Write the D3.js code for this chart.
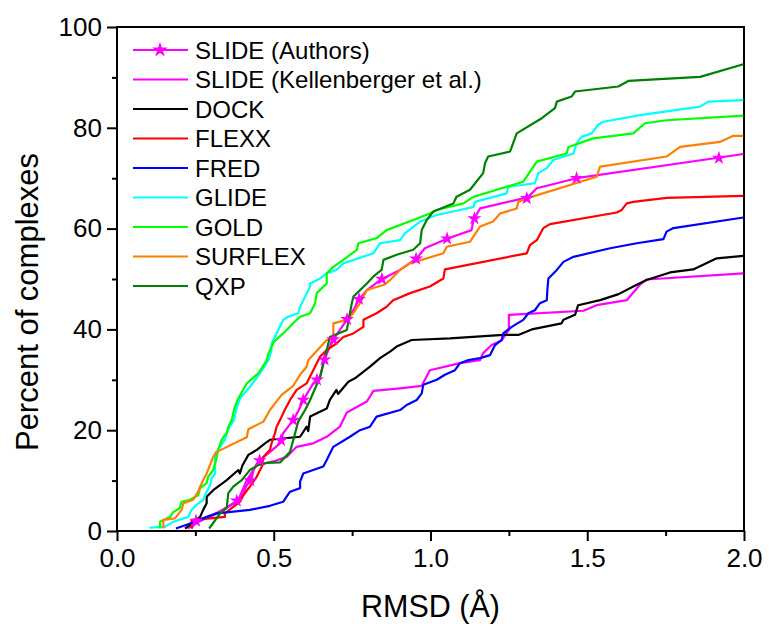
<!DOCTYPE html>
<html>
<head>
<meta charset="utf-8">
<script src="https://cdn.jsdelivr.net/npm/d3@7"></script>
<style>
  body { margin: 0; background: #fff; }
  svg { display: block; font-family: "Liberation Sans", Arial, sans-serif; }
</style>
</head>
<body>
<svg id="chart" width="769" height="627"></svg>
<script>
// cumulative % of complexes docked within a given RMSD
var slideAuthors = [[0.238,0.5],[0.254,2.2],[0.297,2.8],[0.329,3.8],[0.371,5.5],[0.387,6.2],[0.403,7.5],[0.414,9.1],[0.43,10.5],[0.435,12.1],[0.446,13.4],[0.467,14.7],[0.483,15.4],[0.52,17.4],[0.53,19.4],[0.546,20.7],[0.562,22],[0.58,24],[0.594,26],[0.626,29.3],[0.648,30.6],[0.658,33.3],[0.674,35.9],[0.69,37.9],[0.711,39.9],[0.733,41.9],[0.754,43.8],[0.77,45.8],[0.797,47.8],[0.839,49.8],[0.871,50.8],[0.903,51.8],[0.956,54.1],[0.982,56.1],[1.057,58.1],[1.131,59.7],[1.137,61.7],[1.158,64],[1.31,66.2],[1.339,68],[1.466,70],[1.923,74.1],[1.998,74.8]];
var slideAuthorsStars = [[0.252,2],[0.382,6],[0.425,10],[0.455,14],[0.523,18],[0.562,22],[0.594,26],[0.638,30],[0.662,34],[0.69,38],[0.734,42],[0.772,46],[0.845,50],[0.954,54],[1.053,58],[1.14,62],[1.307,66],[1.466,70],[1.92,74]];
var slideKell = [[0.225,0.5],[0.26,1.8],[0.30,3],[0.36,5],[0.387,6.2],[0.414,10.1],[0.446,13.1],[0.499,13.8],[0.541,14.7],[0.573,16.7],[0.626,17.4],[0.669,18.7],[0.711,20.7],[0.733,23.5],[0.797,25.7],[0.818,27.8],[0.903,28.3],[0.972,28.8],[0.998,31.9],[1.094,33.3],[1.158,33.9],[1.168,35.3],[1.195,36.9],[1.227,37.8],[1.25,39.9],[1.25,42.9],[1.488,43.7],[1.53,44.8],[1.626,45.8],[1.67,49],[1.689,49.9],[1.998,51.1]];
var dock = [[0.217,0.5],[0.233,1.2],[0.265,2.8],[0.275,4.2],[0.286,5.5],[0.286,6.8],[0.307,8.1],[0.35,10.1],[0.387,12.1],[0.392,11.4],[0.40,13],[0.419,15.1],[0.446,16.1],[0.472,17.4],[0.488,18.1],[0.584,18.7],[0.605,20.7],[0.61,19.8],[0.616,22.7],[0.669,24.3],[0.679,26],[0.7,28],[0.705,27.2],[0.738,29.6],[0.759,30.3],[0.807,32.6],[0.839,34.3],[0.871,35.6],[0.892,36.6],[0.94,37.9],[1.062,38.2],[1.232,38.9],[1.28,38.9],[1.323,40],[1.418,41.2],[1.424,41.9],[1.461,42.9],[1.471,44.8],[1.541,45.8],[1.6,47],[1.65,48.6],[1.689,49.8],[1.764,51.3],[1.838,51.9],[1.913,54.1],[1.998,54.6]];
var flexx = [[0.238,0.5],[0.238,2.2],[0.297,2.5],[0.344,2.8],[0.344,3.5],[0.371,4.8],[0.392,5.8],[0.403,7.1],[0.424,8.8],[0.446,10.8],[0.462,12.8],[0.467,14.7],[0.488,16.1],[0.493,17.4],[0.504,19.4],[0.509,20.7],[0.52,22],[0.535,24],[0.552,26],[0.573,28],[0.605,29.3],[0.626,31.9],[0.637,33.3],[0.648,34.6],[0.669,35.9],[0.7,37.2],[0.722,38.5],[0.754,39.2],[0.786,40.5],[0.786,41.9],[0.828,43.2],[0.86,44.5],[0.881,45.8],[0.935,47.2],[0.998,48.5],[1.041,50.1],[1.046,51.9],[1.307,55.1],[1.317,56.7],[1.339,57.7],[1.36,60.1],[1.381,60.9],[1.594,63.2],[1.61,63.7],[1.626,65],[1.647,65.3],[1.753,66.1],[1.998,66.5]];
var fred = [[0.188,0.5],[0.233,1.5],[0.286,2.8],[0.318,3.5],[0.424,4.2],[0.488,5],[0.53,5.8],[0.541,6.8],[0.552,7.8],[0.584,8.5],[0.584,9.8],[0.594,11.4],[0.626,12.1],[0.658,12.8],[0.669,14.1],[0.69,16.7],[0.743,18.7],[0.775,20],[0.807,20.7],[0.828,22.7],[0.903,24],[0.924,25],[0.956,26],[0.972,27.3],[0.977,29],[1.02,30],[1.046,31],[1.078,31.9],[1.094,33.3],[1.121,33.9],[1.158,34.3],[1.19,34.9],[1.206,36.9],[1.227,37.9],[1.232,39.2],[1.259,40.5],[1.296,41.9],[1.312,43.2],[1.333,43.8],[1.349,45.2],[1.371,45.8],[1.373,48],[1.376,50.1],[1.403,51.8],[1.424,53.4],[1.456,54.4],[1.573,56.1],[1.658,57.1],[1.743,57.9],[1.753,59.4],[1.775,60.1],[1.998,62.2]];
var glide = [[0.103,0.65],[0.153,0.85],[0.18,1.85],[0.227,2.8],[0.238,4.2],[0.254,5.2],[0.275,6.2],[0.286,7.8],[0.297,9.1],[0.302,10.5],[0.313,11.4],[0.313,15.4],[0.329,16.7],[0.344,18.1],[0.35,19.4],[0.36,20.7],[0.373,22],[0.38,24],[0.392,26.3],[0.424,28.6],[0.456,31.3],[0.483,33.9],[0.493,35.9],[0.493,37.2],[0.525,41.2],[0.53,41.9],[0.546,42.5],[0.578,43.2],[0.584,44.5],[0.616,48.5],[0.616,49.1],[0.648,50.1],[0.669,51.1],[0.7,51.8],[0.722,53.1],[0.818,55.1],[0.839,57.1],[0.903,57.7],[0.919,59.1],[0.967,61.4],[1.02,62.7],[1.094,63.7],[1.137,64.3],[1.142,65.3],[1.243,67],[1.248,68.3],[1.333,69],[1.344,71],[1.371,72],[1.392,73.6],[1.456,74.9],[1.466,76.9],[1.482,78.2],[1.514,78.9],[1.535,80.6],[1.551,81.2],[1.668,82.5],[1.86,84.2],[1.886,85.2],[1.998,85.5]];
var gold = [[0.137,0.5],[0.137,1.85],[0.169,2.8],[0.18,3.8],[0.2,4.5],[0.206,5.8],[0.233,6.2],[0.259,7.1],[0.265,8.5],[0.286,9.5],[0.291,10.8],[0.307,12.1],[0.313,13.4],[0.318,14.7],[0.323,16.1],[0.334,18.1],[0.344,19],[0.35,19.4],[0.355,20.7],[0.366,22],[0.375,24.5],[0.387,26.3],[0.414,29.3],[0.451,31.3],[0.478,33.9],[0.483,35.2],[0.5,37.5],[0.53,39.2],[0.573,41.9],[0.584,42.5],[0.616,43.2],[0.632,45.2],[0.637,47.2],[0.669,49.1],[0.669,51.1],[0.69,52.4],[0.722,53.8],[0.765,55.8],[0.77,57.1],[0.828,58.1],[0.86,59.7],[0.945,61.7],[0.998,63],[1.02,63.7],[1.105,65],[1.137,66.3],[1.211,67.7],[1.296,69.3],[1.339,73.3],[1.434,74.9],[1.44,76.2],[1.519,77.9],[1.647,78.9],[1.684,80.9],[1.753,81.5],[1.998,82.4]];
var surflex = [[0.148,0.5],[0.148,2.2],[0.185,2.5],[0.206,4.2],[0.212,5.5],[0.243,6.2],[0.259,7.8],[0.265,8.8],[0.275,10.1],[0.286,11.4],[0.296,13],[0.307,14.7],[0.318,15.7],[0.414,18.6],[0.419,20.2],[0.467,21.7],[0.488,24],[0.525,27],[0.562,28.8],[0.584,31],[0.605,32.6],[0.61,33.9],[0.669,37.9],[0.69,38.5],[0.69,41.2],[0.733,41.9],[0.754,43.2],[0.775,45.2],[0.797,47.8],[0.818,48.2],[0.85,48.8],[0.871,49.8],[0.903,51.8],[0.935,53.1],[1.041,55.1],[1.052,56.4],[1.126,57.4],[1.158,60.4],[1.2,61.4],[1.222,63],[1.275,64],[1.28,65.3],[1.307,66],[1.53,70.3],[1.541,72.3],[1.753,74.3],[1.796,76.2],[1.923,77.2],[1.966,78.4],[1.998,78.4]];
var qxp = [[0.294,0.5],[0.329,3.5],[0.35,4.6],[0.355,7.5],[0.371,8.8],[0.398,10.1],[0.424,12.1],[0.451,13.1],[0.478,13.5],[0.52,13.6],[0.552,15.7],[0.562,18],[0.578,21.7],[0.6,24],[0.616,26],[0.648,30.6],[0.669,35.9],[0.679,38.5],[0.733,39.9],[0.749,45.2],[0.754,46.5],[0.797,49.1],[0.818,50.5],[0.844,51.8],[0.85,53.8],[0.892,54.8],[0.945,55.8],[0.967,57.1],[0.972,59.7],[0.988,61.7],[1.009,63.4],[1.073,65],[1.083,66.3],[1.126,67.7],[1.168,71],[1.174,73],[1.184,74.3],[1.254,75.3],[1.275,78.9],[1.355,81.9],[1.397,83.9],[1.403,85.2],[1.45,86.2],[1.461,87.2],[1.599,88.2],[1.631,89.3],[1.86,90.1],[1.998,92.6]];

var seriesNames = ["SLIDE (Authors)", "SLIDE (Kellenberger et al.)", "DOCK", "FLEXX", "FRED", "GLIDE", "GOLD", "SURFLEX", "QXP"];
var seriesData = [slideAuthors, slideKell, dock, flexx, fred, glide, gold, surflex, qxp];
var seriesColors = ["#ff00ff", "#ff00ff", "#000000", "#ff0000", "#0000ff", "#00ffff", "#00ff00", "#ff8000", "#008000"];

var xTicks = [0, 0.5, 1.0, 1.5, 2.0];
var yTicks = [0, 20, 40, 60, 80, 100];

(function() {
    var svg = d3.select("#chart");
    var plotLeft = 117, plotRight = 744, plotTop = 27, plotBottom = 531;

    var x = d3.scaleLinear().domain([0, 2]).range([plotLeft, plotRight]);
    var y = d3.scaleLinear().domain([0, 100]).range([plotBottom, plotTop]);

    // minor ticks first, majors drawn over them
    svg.append("g")
        .attr("transform", "translate(0," + plotBottom + ")")
        .call(d3.axisBottom(x).tickValues(d3.range(0.25, 2, 0.5)).tickSize(5).tickFormat(""))
        .call(function(g) { g.select(".domain").remove(); });
    svg.append("g")
        .attr("transform", "translate(" + plotLeft + ",0)")
        .call(d3.axisLeft(y).tickValues(d3.range(10, 100, 20)).tickSize(5).tickFormat(""))
        .call(function(g) { g.select(".domain").remove(); });

    var xAxis = svg.append("g")
        .attr("transform", "translate(0," + plotBottom + ")")
        .call(d3.axisBottom(x).tickValues(xTicks).tickSize(10).tickPadding(8).tickFormat(d3.format(".1f")));
    xAxis.select(".domain").remove();
    xAxis.selectAll("text").attr("font-size", 26).attr("font-family", null).attr("fill", "#000");

    var yAxis = svg.append("g")
        .attr("transform", "translate(" + plotLeft + ",0)")
        .call(d3.axisLeft(y).tickValues(yTicks).tickSize(10).tickPadding(5));
    yAxis.select(".domain").remove();
    yAxis.selectAll("text").attr("font-size", 26).attr("font-family", null).attr("fill", "#000");

    svg.selectAll(".tick line").attr("stroke", "#000").attr("stroke-width", 2);

    // frame
    svg.append("rect")
        .attr("x", plotLeft).attr("y", plotTop)
        .attr("width", plotRight - plotLeft).attr("height", plotBottom - plotTop)
        .attr("fill", "none").attr("stroke", "#000").attr("stroke-width", 2);

    var line = d3.line()
        .x(function(d) { return x(d[0]); })
        .y(function(d) { return y(d[1]); });

    var plot = svg.append("g");
    seriesData.forEach(function(data, i) {
        plot.append("path")
            .datum(data)
            .attr("d", line)
            .attr("fill", "none")
            .attr("stroke", seriesColors[i])
            .attr("stroke-width", 2.2)
            .attr("stroke-linejoin", "round");
    });

    var star = d3.symbol().type(d3.symbolStar).size(60);
    plot.selectAll(".star")
        .data(slideAuthorsStars)
        .enter().append("path")
        .attr("class", "star")
        .attr("d", star)
        .attr("fill", seriesColors[0])
        .attr("transform", function(d) { return "translate(" + x(d[0]) + "," + y(d[1]) + ")"; });

    // legend
    var legend = svg.append("g");
    seriesNames.forEach(function(name, i) {
        var ly = 50 + i * 29.5;
        legend.append("line")
            .attr("x1", 133).attr("x2", 188)
            .attr("y1", ly).attr("y2", ly)
            .attr("stroke", seriesColors[i]).attr("stroke-width", 2.2);
        if (i === 0) {
            legend.append("path")
                .attr("d", d3.symbol().type(d3.symbolStar).size(75))
                .attr("fill", seriesColors[0])
                .attr("transform", "translate(160," + ly + ")");
        }
        legend.append("text")
            .attr("x", 195).attr("y", ly)
            .attr("dy", "0.36em")
            .attr("font-size", 24)
            .text(name);
    });

    svg.append("text")
        .attr("x", (plotLeft + plotRight) / 2).attr("y", 617)
        .attr("text-anchor", "middle")
        .attr("font-size", 30.5)
        .text("RMSD (Å)");

    svg.append("text")
        .attr("transform", "translate(38,302) rotate(-90)")
        .attr("text-anchor", "middle")
        .attr("font-size", 31)
        .text("Percent of complexes");
})();
</script>
</body>
</html>
